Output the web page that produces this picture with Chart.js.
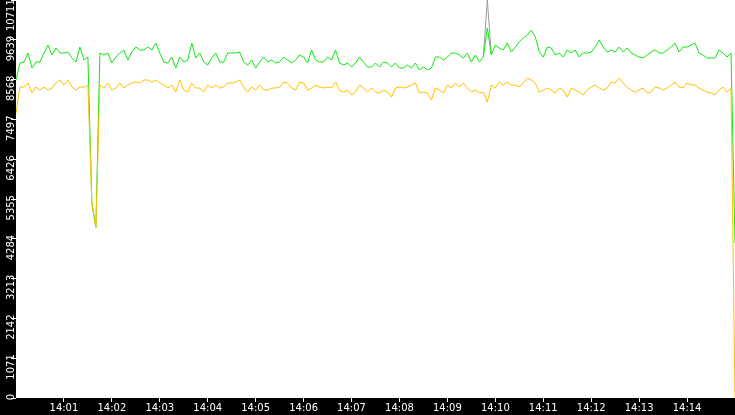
<!DOCTYPE html>
<html>
<head>
<meta charset="utf-8">
<script src="https://cdn.jsdelivr.net/npm/chart.js@4.4.1/dist/chart.umd.min.js"></script>
<style>
  html, body { margin: 0; padding: 0; background: #000; }
  #wrap { position: relative; width: 735px; height: 415px; }
</style>
</head>
<body>
<div id="wrap"><canvas id="chart"></canvas></div>
<script>
// one sample every 5 seconds, starting at 14:00:00
const stepSec = 5;

const greenValues = [
  8560, 9015, 9042, 9284, 8880, 9042, 9042, 9284, 9499, 9230,
  9419, 9284, 9284, 9311, 9149, 9042, 9445, 9096, 9176, 5250,
  4600, 9284, 9230, 9284, 9015, 9176, 9284, 9365, 9096, 9311,
  9445, 9365, 9365, 9445, 9365, 9553, 9284, 9042, 9015, 9176,
  8880, 9176, 9042, 9096, 9553, 9149, 9284, 9042, 8961, 9149,
  9284, 9042, 9042, 9284, 9284, 9284, 9311, 9042, 8961, 9096,
  8880, 9042, 9176, 9042, 9096, 9015, 9042, 9176, 9096, 9015,
  9096, 9230, 9176, 9015, 9365, 9096, 9042, 9042, 9176, 9096,
  9365, 9015, 8961, 9015, 8907, 9015, 9176, 9042, 8907, 8907,
  9015, 8907, 9042, 9015, 8907, 9015, 8880, 8880, 8961, 8880,
  9015, 8826, 8907, 8826, 8880, 9176, 9176, 9096, 9176, 9284,
  9284, 9230, 9149, 9284, 9042, 9230, 9042, 9176, 9960, 9230,
  9499, 9419, 9365, 9553, 9311, 9445, 9580, 9688, 9768, 9903,
  9715, 9311, 9176, 9445, 9419, 9230, 9284, 9176, 9365, 9284,
  9365, 9176, 9284, 9284, 9311, 9445, 9634, 9445, 9311, 9365,
  9311, 9445, 9311, 9419, 9284, 9230, 9176, 9149, 9230, 9311,
  9365, 9284, 9284, 9365, 9445, 9553, 9311, 9445, 9445, 9499,
  9553, 9284, 9230, 9149, 9149, 9149, 9365, 9284, 9176, 9284,
  4170
];

const orangeValues = [
  7670, 8369, 8369, 8477, 8208, 8369, 8288, 8369, 8288, 8342,
  8477, 8557, 8423, 8557, 8369, 8288, 8369, 8369, 8423, 5200,
  4580, 8423, 8342, 8477, 8288, 8342, 8477, 8342, 8423, 8477,
  8504, 8477, 8557, 8557, 8504, 8557, 8477, 8423, 8342, 8423,
  8234, 8557, 8288, 8234, 8477, 8342, 8342, 8234, 8423, 8342,
  8423, 8342, 8369, 8477, 8477, 8504, 8557, 8369, 8234, 8369,
  8288, 8423, 8288, 8288, 8342, 8342, 8369, 8504, 8477, 8342,
  8288, 8504, 8477, 8288, 8342, 8423, 8369, 8342, 8369, 8342,
  8504, 8288, 8234, 8288, 8154, 8234, 8423, 8342, 8234, 8342,
  8234, 8208, 8288, 8234, 8100, 8342, 8369, 8342, 8369, 8423,
  8477, 8208, 8234, 8208, 8019, 8342, 8288, 8208, 8423, 8342,
  8477, 8369, 8477, 8342, 8234, 8288, 8208, 8234, 7965, 8423,
  8342, 8504, 8423, 8504, 8423, 8423, 8369, 8477, 8611, 8557,
  8477, 8234, 8288, 8342, 8288, 8208, 8342, 8288, 8100, 8342,
  8288, 8234, 8154, 8288, 8369, 8423, 8342, 8288, 8342, 8504,
  8477, 8611, 8477, 8369, 8288, 8234, 8288, 8342, 8208, 8234,
  8369, 8342, 8288, 8342, 8423, 8504, 8369, 8342, 8477, 8423,
  8423, 8342, 8288, 8234, 8208, 8154, 8288, 8369, 8234, 8342,
  0
];

// grey trace only shows where it sticks out above the green one
const grayTimes = [585, 590, 595];
const grayValues = [9176, 10711, 9230];

const yTicks = [0, 1071, 2142, 3213, 4284, 5355, 6426, 7497, 8568, 9639, 10711];
const xTickSec = [60, 120, 180, 240, 300, 360, 420, 480, 540, 600, 660, 720, 780, 840];
const xTickLabels = ['14:01', '14:02', '14:03', '14:04', '14:05', '14:06', '14:07',
                     '14:08', '14:09', '14:10', '14:11', '14:12', '14:13', '14:14'];

const toPoints = (vals) => vals.map((v, i) => ({ x: i * stepSec, y: v }));

// black frame, white plot area
const plotBg = {
  id: 'plotBg',
  beforeDraw(chart) {
    const { ctx, chartArea: a } = chart;
    ctx.save();
    ctx.fillStyle = '#000';
    ctx.fillRect(0, 0, chart.width, chart.height);
    ctx.fillStyle = '#fff';
    ctx.fillRect(a.left, a.top, a.right - a.left, a.bottom - a.top);
    ctx.restore();
  }
};

const tickFont = { family: 'DejaVu Sans', size: 10, lineHeight: 1.1 };
const yTop = yTicks[yTicks.length - 1];

new Chart(document.getElementById('chart'), {
  type: 'line',
  data: {
    datasets: [
      { data: toPoints(orangeValues), borderColor: '#ffc000', borderWidth: 1, pointRadius: 0, tension: 0 },
      { data: toPoints(greenValues), borderColor: '#10e810', borderWidth: 1, pointRadius: 0, tension: 0 },
      {
        data: grayTimes.map((t, i) => ({ x: t, y: grayValues[i] })),
        borderColor: '#9a9a9a', borderWidth: 1, pointRadius: 0, tension: 0
      }
    ]
  },
  options: {
    responsive: true,
    maintainAspectRatio: false,
    animation: false,
    layout: { padding: 0 },
    plugins: { legend: { display: false }, tooltip: { enabled: false } },
    scales: {
      x: {
        type: 'linear',
        min: 0,
        max: 900,
        afterBuildTicks: (scale) => { scale.ticks = xTickSec.map(v => ({ value: v })); },
        ticks: {
          color: '#fff',
          font: tickFont,
          maxRotation: 0,
          autoSkip: false,
          padding: 1,
          callback: (v) => xTickLabels[xTickSec.indexOf(v)]
        },
        grid: { drawOnChartArea: false, color: '#fff', tickLength: 4 },
        border: { display: false }
      },
      y: {
        min: 0,
        max: yTop,
        afterBuildTicks: (scale) => { scale.ticks = yTicks.map(v => ({ value: v })); },
        // plot runs right up to the top edge
        afterFit: (scale) => { scale.paddingTop = 0; scale.paddingBottom = 0; },
        ticks: {
          color: '#fff',
          font: tickFont,
          minRotation: 90,
          maxRotation: 90,
          autoSkip: false,
          padding: 0,
          labelOffset: -4,
          // trailing space keeps the top label from being cut off by the canvas edge
          callback: (v) => (v === yTop ? v + ' ' : String(v))
        },
        grid: { drawOnChartArea: false, color: '#fff', tickLength: 5 },
        border: { display: false }
      }
    }
  },
  plugins: [plotBg]
});
</script>
</body>
</html>
